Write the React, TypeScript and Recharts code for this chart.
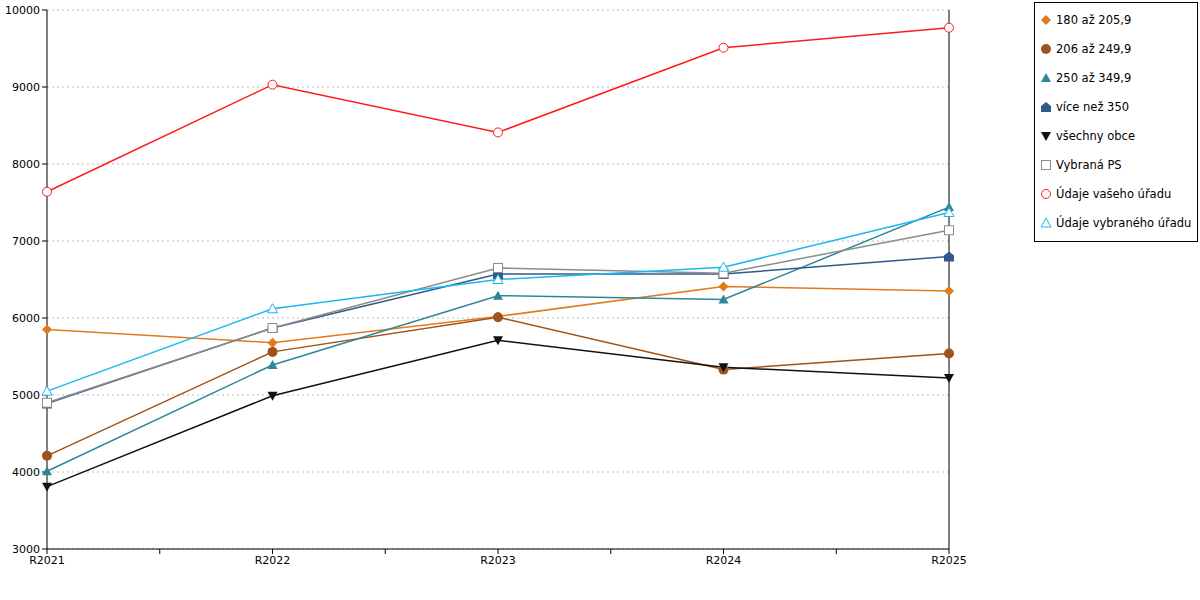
import { LineChart, Line, XAxis, YAxis, CartesianGrid, ReferenceLine } from "recharts";

const years = ["R2021", "R2022", "R2023", "R2024", "R2025"];
const s180 = [5850, 5680, 6020, 6410, 6350];
const s206 = [4210, 5560, 6010, 5330, 5540];
const s250 = [4010, 5390, 6290, 6240, 7440];
const s350 = [4890, 5870, 6570, 6570, 6800];
const sAll = [3810, 4990, 5710, 5360, 5220];
const sPS = [4900, 5870, 6650, 6580, 7140];
const sUrad = [7640, 9030, 8410, 9510, 9770];
const sVybUrad = [5050, 6120, 6500, 6660, 7370];
const yTicks = [3000, 4000, 5000, 6000, 7000, 8000, 9000, 10000];

const series = [
  { key: "a", name: "180 až 205,9", color: "#e07b1a", shape: "diamond", values: s180 },
  { key: "b", name: "206 až 249,9", color: "#a0521b", shape: "circle", values: s206 },
  { key: "c", name: "250 až 349,9", color: "#2e8699", shape: "triangle", values: s250 },
  { key: "d", name: "více než 350", color: "#2f5b8c", shape: "house", values: s350 },
  { key: "e", name: "všechny obce", color: "#111111", shape: "down", values: sAll },
  { key: "f", name: "Vybraná PS", color: "#8c8c8c", shape: "square", values: sPS },
  { key: "g", name: "Údaje vašeho úřadu", color: "#ff1a1a", shape: "ocircle", values: sUrad },
  { key: "h", name: "Údaje vybraného úřadu", color: "#1ab8f0", shape: "otriangle", values: sVybUrad },
];

const data = years.map((y, i) => {
  const row: Record<string, number | string> = { x: i, name: y };
  series.forEach((s) => (row[s.key] = s.values[i]));
  return row;
});

const marker = (shape: string, color: string, cx: number, cy: number, k?: string) => {
  const r = 5;
  switch (shape) {
    case "diamond":
      return <polygon key={k} points={`${cx},${cy - r} ${cx + r},${cy} ${cx},${cy + r} ${cx - r},${cy}`} fill={color} />;
    case "circle":
      return <circle key={k} cx={cx} cy={cy} r={r} fill={color} />;
    case "triangle":
      return <polygon key={k} points={`${cx},${cy - r} ${cx + r},${cy + r * 0.8} ${cx - r},${cy + r * 0.8}`} fill={color} />;
    case "house":
      return <polygon key={k} points={`${cx},${cy - r} ${cx + r},${cy - 1} ${cx + r},${cy + r} ${cx - r},${cy + r} ${cx - r},${cy - 1}`} fill={color} />;
    case "down":
      return <polygon key={k} points={`${cx - r},${cy - r * 0.8} ${cx + r},${cy - r * 0.8} ${cx},${cy + r}`} fill={color} />;
    case "square":
      return <rect key={k} x={cx - 4.5} y={cy - 4.5} width={9} height={9} fill="#fff" stroke={color} />;
    case "ocircle":
      return <circle key={k} cx={cx} cy={cy} r={4.5} fill="#fff" stroke={color} />;
    default:
      return <polygon key={k} points={`${cx},${cy - r} ${cx + r},${cy + r * 0.8} ${cx - r},${cy + r * 0.8}`} fill="#fff" stroke={color} />;
  }
};

const LegendBox = () => (
  <div style={{ position: "absolute", left: 1034, top: 2, width: 164, height: 240, border: "1px solid #000", background: "#fff", boxSizing: "border-box", paddingTop: 9 }}>
    {series.map((s) => (
      <div key={s.key} style={{ height: 29, display: "flex", alignItems: "flex-start", fontSize: 11.5, fontFamily: "DejaVu Sans", color: "#000", whiteSpace: "nowrap" }}>
        <svg width={18} height={16} style={{ marginLeft: 2 }}>{marker(s.shape, s.color, 9, 8)}</svg>
        <span style={{ marginLeft: 1, marginTop: 1 }}>{s.name}</span>
      </div>
    ))}
  </div>
);

export default function App() {
  return (
    <div style={{ position: "absolute", left: 0, top: 0, width: 1200, height: 600, background: "#fff" }}>
      <LineChart width={1200} height={600} data={data} margin={{ top: 10, right: 251, bottom: 21, left: 0 }}>
        <CartesianGrid horizontal vertical={false} strokeDasharray="2 3" stroke="#bbb" />
        <XAxis
          dataKey="x"
          type="number"
          domain={[0, 4]}
          ticks={[0, 0.5, 1, 1.5, 2, 2.5, 3, 3.5, 4]}
          tickFormatter={(v: number) => (Number.isInteger(v) ? years[v] : "")}
          stroke="#000"
          tickSize={5}
          tick={{ fill: "#000", fontSize: 11, fontFamily: "DejaVu Sans" }}
          interval={0}
        />
        <YAxis
          width={47}
          domain={[3000, 10000]}
          ticks={yTicks}
          stroke="#000"
          tickSize={5}
          tick={{ fill: "#000", fontSize: 11, fontFamily: "DejaVu Sans" }}
        />
        <ReferenceLine x={4} stroke="#000" />
        {series.map((s) => (
          <Line
            key={s.key}
            dataKey={s.key}
            name={s.name}
            stroke={s.color}
            strokeWidth={1.5}
            isAnimationActive={false}
            dot={(p: any) => marker(s.shape, s.color, p.cx, p.cy, `${s.key}-${p.index}`)}
            activeDot={false}
          />
        ))}
      </LineChart>
      <LegendBox />
    </div>
  );
}
